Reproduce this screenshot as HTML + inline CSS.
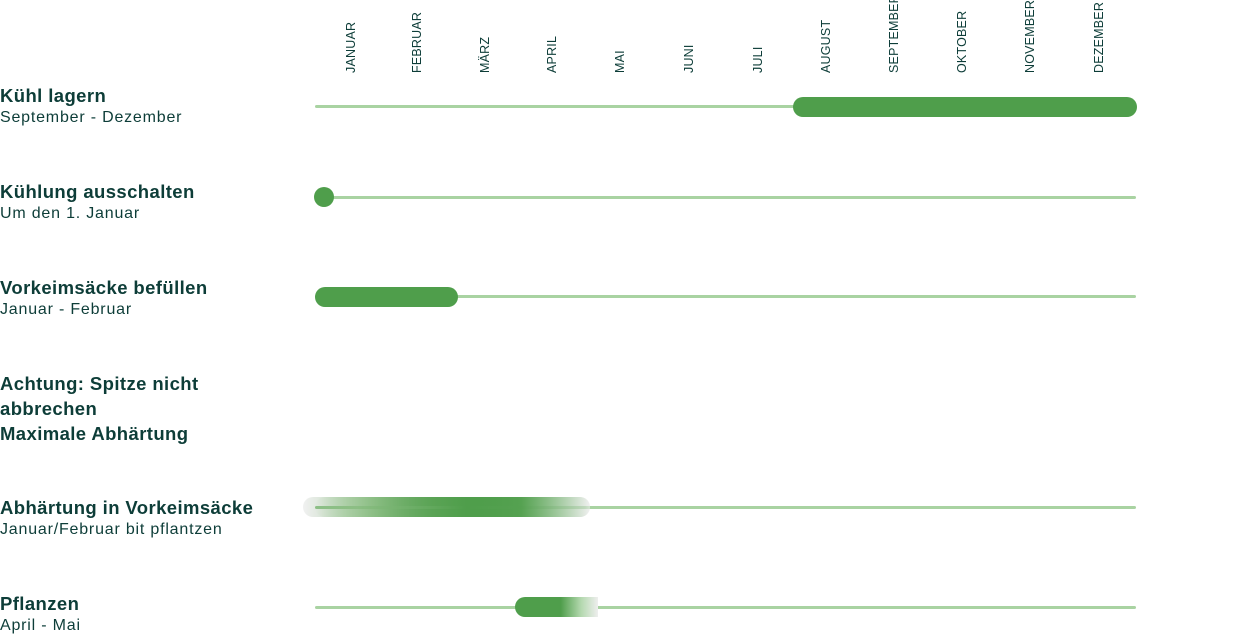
<!DOCTYPE html>
<html><head><meta charset="utf-8"><style>
body{margin:0;width:1240px;height:636px;background:#fff;position:relative;overflow:hidden;font-family:"Liberation Sans",sans-serif;color:#0d3d38}
.m{position:absolute;top:73px;font-size:12.5px;transform-origin:0 0;transform:rotate(-90deg);white-space:nowrap;letter-spacing:.2px}
.t{position:absolute;left:0;font-weight:bold;font-size:18.5px;letter-spacing:.4px;line-height:25px}
.s{position:absolute;left:0;font-size:16px;letter-spacing:.8px}
.l{position:absolute;left:315px;width:821px;height:3px;background:#a9d3a2;border-radius:2px}
.b{position:absolute;height:20px;background:#4f9e4b;border-radius:10px}
</style></head><body>
<div class="m" style="left:344px">JANUAR</div>
<div class="m" style="left:410px">FEBRUAR</div>
<div class="m" style="left:478px">MÄRZ</div>
<div class="m" style="left:545px">APRIL</div>
<div class="m" style="left:613px">MAI</div>
<div class="m" style="left:682px">JUNI</div>
<div class="m" style="left:751px">JULI</div>
<div class="m" style="left:819px">AUGUST</div>
<div class="m" style="left:887px">SEPTEMBER</div>
<div class="m" style="left:955px">OKTOBER</div>
<div class="m" style="left:1023px">NOVEMBER</div>
<div class="m" style="left:1092px">DEZEMBER</div>

<div class="t" style="top:83px">Kühl lagern</div>
<div class="s" style="top:109px">September - Dezember</div>
<div class="l" style="top:105px"></div>
<div class="b" style="left:793px;width:344px;top:97px"></div>

<div class="t" style="top:179px">Kühlung ausschalten</div>
<div class="s" style="top:205px">Um den 1. Januar</div>
<div class="l" style="top:196px"></div>
<div class="b" style="left:314px;width:20px;top:187px"></div>

<div class="t" style="top:275px">Vorkeimsäcke befüllen</div>
<div class="s" style="top:301px">Januar - Februar</div>
<div class="l" style="top:295px"></div>
<div class="b" style="left:315px;width:143px;top:287px"></div>

<div class="t" style="top:371px">Achtung: Spitze nicht<br>abbrechen<br>Maximale Abhärtung</div>

<div class="t" style="top:495px">Abhärtung in Vorkeimsäcke</div>
<div class="s" style="top:521px">Januar/Februar bit pflantzen</div>
<div class="b" style="left:303px;width:287px;top:497px;background:linear-gradient(90deg,#f1f1f1 0%,#9fc99a 25%,#5a9f55 45%,#4f9e4b 60%,#9fcf99 80%,#f1f1f1 100%)"></div>
<div class="l" style="top:506px;left:315px;width:821px;background:linear-gradient(90deg,#8cbf86 0,#8cbf86 270px,#a9d3a2 275px)"></div>
<div class="b" style="left:315px;width:275px;top:497px;background:linear-gradient(90deg,rgba(255,255,255,0) 0%,rgba(140,190,130,.5) 15%,rgba(79,158,75,1) 55%,rgba(79,158,75,.9) 75%,rgba(240,240,240,.6) 100%)"></div>

<div class="t" style="top:591px">Pflanzen</div>
<div class="s" style="top:617px">April - Mai</div>
<div class="l" style="top:606px"></div>
<div class="b" style="left:515px;width:83px;top:597px;border-radius:10px 0 0 10px;background:linear-gradient(90deg,#4f9e4b 0%,#4f9e4b 55%,#b5d9b0 80%,#eeeeee 100%)"></div>
</body></html>
